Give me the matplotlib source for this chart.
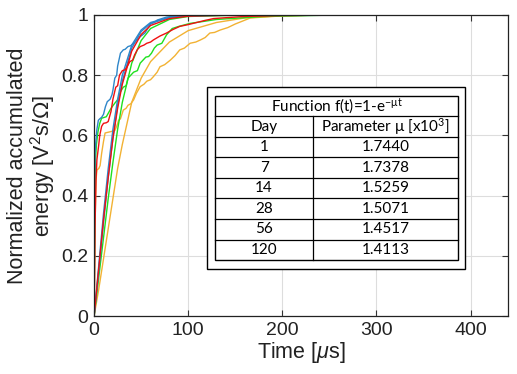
import numpy as np
import matplotlib
matplotlib.use("Agg")
import matplotlib.pyplot as plt
from matplotlib.patches import Rectangle

plt.rcParams['font.family'] = ['Liberation Sans', 'DejaVu Sans']
plt.rcParams['mathtext.fontset'] = 'custom'
plt.rcParams['mathtext.rm'] = 'Liberation Sans'
plt.rcParams['mathtext.it'] = 'Liberation Sans:italic'

# ---- measured (jagged) curves ----
blue_meas_t = [0, 0.5, 1, 2, 3, 4.5, 6, 8, 10, 12, 14, 17, 19, 20, 22, 24, 25, 28, 31, 33, 36, 39, 42, 45, 49, 54, 57, 60, 64, 67, 72, 77, 88, 100, 120, 180, 260]
blue_meas_y = [0, 0.35, 0.54, 0.585, 0.62, 0.65, 0.655, 0.66, 0.67, 0.695, 0.712, 0.72, 0.735, 0.75, 0.79, 0.80, 0.83, 0.873, 0.884, 0.886, 0.895, 0.898, 0.906, 0.915, 0.928, 0.94, 0.955, 0.97, 0.975, 0.983, 0.988, 0.993, 0.997, 0.998, 0.999, 1.0, 1.0]

red_meas_t = [0, 1, 2, 3, 5, 6, 8, 10, 13, 15, 18, 20, 23, 25, 27, 30, 33, 35, 38, 41, 43, 46, 49, 53, 56, 60, 63, 70, 77, 84, 91, 100, 109, 118, 127, 145, 160, 200, 260]
red_meas_y = [0, 0.3, 0.45, 0.52, 0.57, 0.6, 0.63, 0.64, 0.642, 0.646, 0.68, 0.72, 0.76, 0.765, 0.8, 0.815, 0.818, 0.828, 0.845, 0.85, 0.867, 0.885, 0.895, 0.9, 0.906, 0.91, 0.917, 0.93, 0.94, 0.952, 0.962, 0.968, 0.975, 0.982, 0.988, 0.992, 0.995, 0.998, 1.0]

green_meas_t = [0, 0.5, 1, 1.5, 2.5, 4, 6, 8, 13, 18, 22, 25.5, 28, 31, 34, 36, 39, 42, 46, 49, 52, 55, 58, 61, 64, 67, 72, 77, 83, 90, 102, 115, 130, 180, 260]
green_meas_y = [0, 0.25, 0.45, 0.52, 0.57, 0.61, 0.64, 0.657, 0.662, 0.69, 0.707, 0.72, 0.745, 0.76, 0.765, 0.79, 0.80, 0.81, 0.815, 0.84, 0.85, 0.86, 0.862, 0.873, 0.89, 0.9, 0.906, 0.934, 0.955, 0.962, 0.972, 0.978, 0.985, 0.995, 1.0]

orange_meas_t = [0, 0.5, 1, 2, 3, 5, 6.4, 8, 10, 11.7, 17, 22, 24, 26, 28, 31, 34, 36, 39, 42, 45, 49, 53, 56, 60, 63, 67, 70, 75, 81, 86, 91, 96, 102, 108, 113, 118, 123, 128, 134, 142, 150, 158, 166, 180, 200, 230, 260]
orange_meas_y = [0, 0.12, 0.3, 0.45, 0.485, 0.49, 0.5, 0.54, 0.58, 0.608, 0.612, 0.616, 0.63, 0.65, 0.655, 0.684, 0.69, 0.70, 0.705, 0.718, 0.74, 0.762, 0.77, 0.78, 0.785, 0.795, 0.81, 0.828, 0.835, 0.85, 0.865, 0.884, 0.89, 0.906, 0.91, 0.917, 0.925, 0.94, 0.942, 0.95, 0.958, 0.97, 0.98, 0.99, 0.993, 0.997, 0.999, 1.0]

# ---- fitted (smooth) curves ----
fit_t = [0, 5, 10, 15, 20, 25, 30, 40, 50, 60, 80, 100, 150, 200, 260]
blue_fit_y = [0, 0.17, 0.34, 0.49, 0.62, 0.72, 0.80, 0.90, 0.95, 0.975, 0.992, 0.998, 1.0, 1.0, 1.0]
blue2_fit_y = [0, 0.15, 0.31, 0.46, 0.59, 0.70, 0.78, 0.89, 0.945, 0.972, 0.991, 0.997, 1.0, 1.0, 1.0]
red_fit_y = [0, 0.16, 0.32, 0.46, 0.59, 0.69, 0.77, 0.88, 0.935, 0.965, 0.988, 0.996, 1.0, 1.0, 1.0]
green_fit_y = [0, 0.13, 0.26, 0.39, 0.51, 0.62, 0.71, 0.84, 0.915, 0.955, 0.985, 0.995, 0.999, 1.0, 1.0]
orange_fit_t = [0, 5, 10, 15, 20, 25, 30, 40, 50, 60, 80, 100, 130, 160, 200, 260]
orange_fit_y = [0, 0.09, 0.19, 0.29, 0.39, 0.49, 0.57, 0.71, 0.79, 0.845, 0.91, 0.948, 0.975, 0.99, 0.998, 1.0]

# ---- table ----
table_title = r'Function f(t)=1-e$^{\mathregular{-\mu t}}$'
table_head = ['Day', r'Parameter μ [x10$^{\mathregular{3}}$]']
days = ['1', '7', '14', '28', '56', '120']
mu_vals = ['1.7440', '1.7378', '1.5259', '1.5071', '1.4517', '1.4113']

xticks = [0, 100, 200, 300, 400]
yticks = [0, 0.2, 0.4, 0.6, 0.8, 1.0]
ytick_labels = ['0', '0.2', '0.4', '0.6', '0.8', '1']

c_blue = '#2E86C9'
c_red = '#F01010'
c_green = '#1EE01E'
c_orange = '#F2B233'

fig = plt.figure(figsize=(5.17, 3.74), dpi=100)
ax = fig.add_axes([0.182, 0.155, 0.801, 0.805])

lw = 1.0
ax.plot(orange_fit_t, orange_fit_y, color=c_orange, lw=lw)
ax.plot(orange_meas_t, orange_meas_y, color=c_orange, lw=lw)
ax.plot(fit_t, green_fit_y, color=c_green, lw=lw)
ax.plot(green_meas_t, green_meas_y, color=c_green, lw=lw)
ax.plot(fit_t, blue2_fit_y, color=c_blue, lw=lw)
ax.plot(fit_t, blue_fit_y, color=c_blue, lw=lw)
ax.plot(blue_meas_t, blue_meas_y, color=c_blue, lw=lw)
ax.plot(fit_t, red_fit_y, color=c_red, lw=lw)
ax.plot(red_meas_t, red_meas_y, color=c_red, lw=lw)

ax.set_xlim(0, 440)
ax.set_ylim(0, 1)
ax.set_xticks(xticks)
ax.set_yticks(yticks)
ax.set_yticklabels(ytick_labels)
ax.tick_params(direction='in', top=True, right=True, labelsize=14, length=4,
               color='#333333', labelcolor='#222222', pad=4)
ax.grid(True, color='#DDDDDD', lw=0.8)
ax.set_axisbelow(True)
for s in ax.spines.values():
    s.set_color('#222222')
    s.set_linewidth(0.9)

ax.set_xlabel(r'Time [$\mu$s]', fontsize=15.5, color='#222222', labelpad=1)
ax.set_ylabel('Normalized accumulated\n' + r'energy [V$^2$s/$\Omega$]', fontsize=15.5,
              color='#222222', labelpad=3, linespacing=1.0)

# table box
tf = ['Lato', 'DejaVu Sans']
outer = Rectangle((0.273, 0.156), 0.623, 0.605, transform=ax.transAxes,
                  facecolor='white', edgecolor='black', lw=1.0, zorder=5)
ax.add_patch(outer)
x0, x1, xm = 0.292, 0.879, 0.529
y_top, y_bot = 0.731, 0.186
nrows = 2 + len(days)
rh = (y_top - y_bot) / nrows
ax.add_patch(Rectangle((x0, y_bot), x1 - x0, y_top - y_bot, transform=ax.transAxes,
                       facecolor='white', edgecolor='black', lw=1.0, zorder=6))
for i in range(1, nrows):
    yy = y_top - i * rh
    ax.plot([x0, x1], [yy, yy], transform=ax.transAxes, color='black', lw=0.9, zorder=7)
ax.plot([xm, xm], [y_bot, y_top - rh], transform=ax.transAxes, color='black', lw=0.9, zorder=7)

plt.rcParams['mathtext.rm'] = 'Lato'
fs = 11
ax.text((x0 + x1) / 2, y_top - 0.5 * rh, table_title, transform=ax.transAxes,
        ha='center', va='center', fontsize=fs, family=tf, zorder=8)
ax.text((x0 + xm) / 2, y_top - 1.5 * rh, table_head[0], transform=ax.transAxes,
        ha='center', va='center', fontsize=fs, family=tf, zorder=8)
ax.text((xm + x1) / 2, y_top - 1.5 * rh, table_head[1], transform=ax.transAxes,
        ha='center', va='center', fontsize=fs, family=tf, zorder=8)
for i, (d, m) in enumerate(zip(days, mu_vals)):
    yy = y_top - (2.5 + i) * rh
    ax.text((x0 + xm) / 2, yy, d, transform=ax.transAxes, ha='center', va='center',
            fontsize=fs, family=tf, zorder=8)
    ax.text((xm + x1) / 2, yy, m, transform=ax.transAxes, ha='center', va='center',
            fontsize=fs, family=tf, zorder=8)

fig.savefig('out.png', dpi=100)
